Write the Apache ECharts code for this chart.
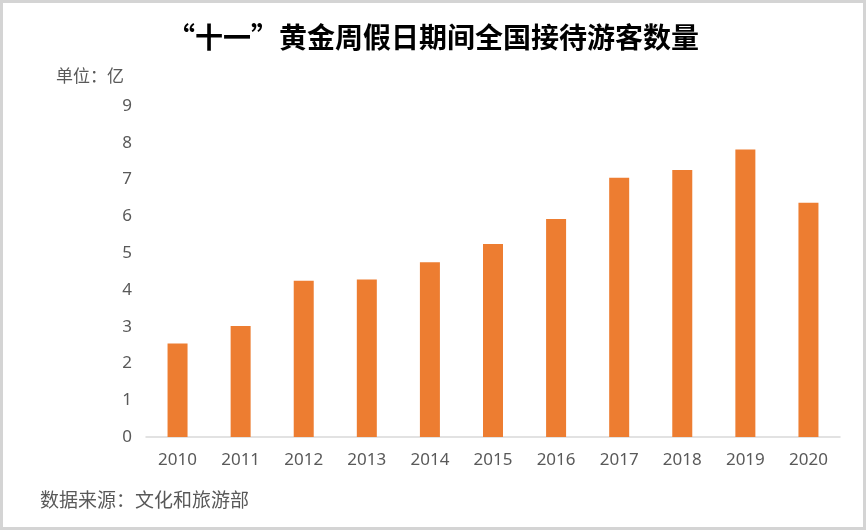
<!DOCTYPE html>
<html><head><meta charset="utf-8">
<script src="https://cdn.jsdelivr.net/npm/echarts@6/dist/echarts.min.js"></script>
<style>html,body{margin:0;padding:0;background:#fff}#c{width:866px;height:530px}</style>
</head><body><div id="c"></div>
<script>
const years = ['2010','2011','2012','2013','2014','2015','2016','2017','2018','2019','2020'];
const visitors = [2.54, 3.02, 4.25, 4.28, 4.75, 5.25, 5.93, 7.05, 7.26, 7.82, 6.37];
const titleText = '“十一”黄金周假日期间全国接待游客数量';
const unitText = '单位：亿';
const sourceText = '数据来源：文化和旅游部';

const chart = echarts.init(document.getElementById('c'), null, {renderer:'canvas'});
chart.setOption({
  backgroundColor: '#ffffff',
  animation: false,
  title: {
    text: titleText, left: 'center', top: 18,
    textStyle: {fontFamily: 'Noto Sans CJK SC', fontSize: 28, fontWeight: 'bold', color: '#000'}
  },
  graphic: [
    {type:'rect', shape:{x:1.5,y:1.5,width:863,height:527}, style:{fill:'none', stroke:'#d4d4d4', lineWidth:3}, silent:true},
    {type:'text', left: 56, top: 67, style:{text: unitText, fontFamily:'Noto Sans CJK SC', fontSize:17, fill:'#595959'}},
    {type:'text', left: 40, top: 490, style:{text: sourceText, fontFamily:'Noto Sans CJK SC', fontSize:19, fill:'#595959'}}
  ],
  grid: {left: 146, right: 26, top: 106, bottom: 93},
  xAxis: {
    type: 'category', data: years,
    axisLine: {lineStyle: {color: '#d9d9d9', width: 1.5}},
    axisTick: {show: false},
    axisLabel: {color: '#595959', fontSize: 17, fontFamily: 'Noto Sans', margin: 15}
  },
  yAxis: {
    type: 'value', min: 0, max: 9, interval: 1,
    axisLine: {show: false}, axisTick: {show: false},
    splitLine: {show: false},
    axisLabel: {color: '#595959', fontSize: 17, fontFamily: 'Noto Sans', margin: 14}
  },
  series: [{
    type: 'bar', data: visitors, barWidth: 20,
    itemStyle: {color: '#ED7D31'}
  }]
});
</script></body></html>
